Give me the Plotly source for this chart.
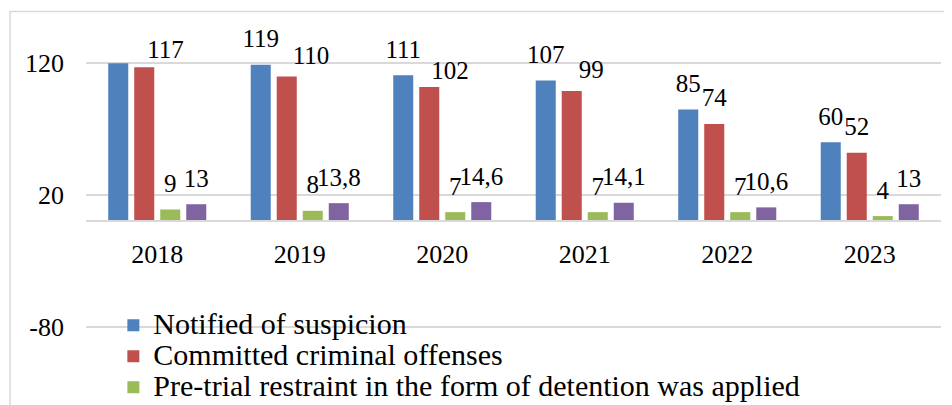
import plotly.graph_objects as go

years = ["2018", "2019", "2020", "2021", "2022", "2023"]
notified = [120, 119, 111, 107, 85, 60]
committed = [117, 110, 102, 99, 74, 52]
detention = [9, 8, 7, 7, 7, 4]
fourth = [13, 13.8, 14.6, 14.1, 10.6, 13]
y_ticks = [-80, 20, 120]
y_tick_text = ["-80", "20", "120"]

names = [
    "Notified of suspicion",
    "Committed criminal offenses",
    "Pre-trial restraint in the form of detention was applied",
    "Series 4",
]
colors = ["#4f81bd", "#c0504d", "#9bbb59", "#8064a2"]
series = [notified, committed, detention, fourth]
hidden_label = {0: [0]}  # the 2018 "Notified" label is not shown in the source

# label placement style (Excel-like overlap avoidance): (series, point) -> (position, offset marker size)
DEFAULT_POS = ("top center", 16.4)
label_style = {
    (1, 0): ("top right", 3.2),
    (1, 1): ("top right", 8.0),
    (1, 2): ("top right", 1.6),
    (1, 3): ("top right", 9.6),
}

FONT = "Liberation Serif"
BARGAP = 0.27


def fmt(v):
    return ("%g" % v).replace(".", ",")


fig = go.Figure()
for i, (nm, col, vals) in enumerate(zip(names, colors, series)):
    fig.add_trace(go.Bar(
        x=years, y=vals, name='<span style="font-size:30px">%s</span>' % nm,
        marker=dict(color=col, line=dict(width=0)),
        showlegend=(i < 3), hovertemplate="%{x}: %{y}<extra>" + nm + "</extra>",
    ))

for i, vals in enumerate(series):
    labels = [fmt(v) for v in vals]
    for j in hidden_label.get(i, []):
        labels[j] = ""
    pos = [label_style.get((i, j), DEFAULT_POS)[0] for j in range(len(vals))]
    sizes = [label_style.get((i, j), DEFAULT_POS)[1] for j in range(len(vals))]
    fig.add_trace(go.Scatter(
        x=years, y=vals, mode="markers+text", text=labels, textposition=pos,
        marker=dict(size=sizes, color="rgba(0,0,0,0)", line=dict(width=0)),
        textfont=dict(family=FONT, size=25, color="#000000"),
        cliponaxis=False, showlegend=False, hoverinfo="skip",
    ))

fig.update_layout(
    width=944, height=397,
    margin=dict(l=78, r=11, t=54, b=77, autoexpand=False),
    paper_bgcolor="white", plot_bgcolor="white",
    barmode="group", bargap=BARGAP, bargroupgap=0.23,
    scattermode="group", scattergap=BARGAP,
    font=dict(family=FONT, color="#000000"),
    legend=dict(
        x=0.032, y=0.087, xanchor="left", yanchor="top",
        bgcolor="rgba(0,0,0,0)", font=dict(family=FONT, size=21.5, color="#000000"),
        traceorder="normal",
    ),
    xaxis=dict(
        anchor="free", position=0.401, showline=True, linecolor="#d9d9d9", linewidth=1.5,
        showgrid=False, ticks="", tickfont=dict(family=FONT, size=26, color="#000000"),
        ticklabelstandoff=10,
    ),
    yaxis=dict(
        range=[-81, 121], tickvals=y_ticks, ticktext=y_tick_text, showgrid=True,
        gridcolor="#d9d9d9", gridwidth=1.5, zeroline=False, showline=False, ticks="",
        tickfont=dict(family=FONT, size=26, color="#000000"), ticklabelstandoff=21,
    ),
    shapes=[dict(
        type="rect", xref="paper", yref="paper", x0=-0.0889, x1=1.3, y0=-1.0, y1=1.19,
        line=dict(color="#d9d9d9", width=1.5), fillcolor="rgba(0,0,0,0)", layer="below",
    )],
)

fig.write_html("out.html")
